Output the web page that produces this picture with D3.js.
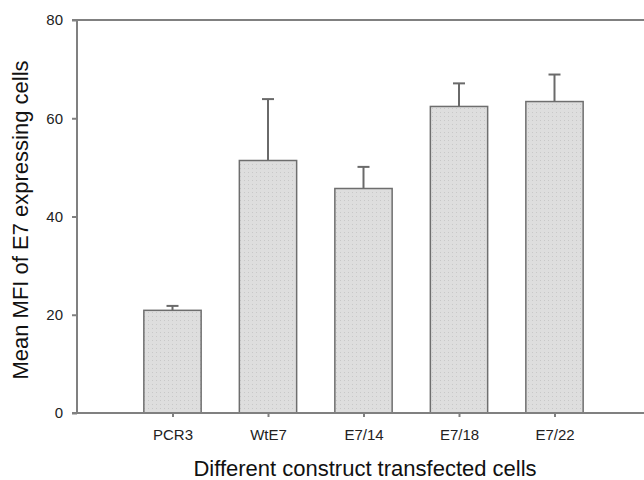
<!DOCTYPE html>
<html>
<head>
<meta charset="utf-8">
<script src="https://cdn.jsdelivr.net/npm/d3@7"></script>
<style>
  body { margin: 0; background: #fff; }
  svg { display: block; font-family: Arial, "Liberation Sans", sans-serif; }
</style>
</head>
<body>
<svg id="chart" width="644" height="480"></svg>
<script>
  // data
  const categories = [ 'PCR3', 'WtE7', 'E7/14', 'E7/18', 'E7/22' ];
  const means = [ 20.9, 51.4, 45.7, 62.4, 63.4 ];
  const errors = [ 0.9, 12.5, 4.4, 4.7, 5.5 ];
  const yTicks = [ 0, 20, 40, 60, 80 ];

  let svg = d3.select( '#chart' ),
    axisColor = '#808080';

  let x = d3.scalePoint().domain( categories ).range( [ 77, 650 ] ).padding( 1 ),
    y = d3.scaleLinear().domain( [ 0, 80 ] ).range( [ 413, 20 ] ),
    barW = x.step() * 0.6;

  // dotted fill like the original
  let pat = svg.append( 'defs' ).append( 'pattern' )
    .attr( 'id', 'dots' ).attr( 'width', 4 ).attr( 'height', 4 )
    .attr( 'patternUnits', 'userSpaceOnUse' );
  pat.append( 'rect' ).attr( 'width', 4 ).attr( 'height', 4 ).attr( 'fill', '#dedede' );
  pat.append( 'rect' ).attr( 'width', 1 ).attr( 'height', 1 ).attr( 'fill', '#c8c8c8' );

  let data = categories.map( ( c, i ) => ( { c: c, m: means[ i ], e: errors[ i ] } ) );

  // error bars (drawn first, bar covers lower part)
  let err = svg.append( 'g' ).attr( 'stroke', '#6a6a6a' ).attr( 'stroke-width', 2 );
  err.selectAll( 'line.stem' ).data( data ).enter().append( 'line' )
    .attr( 'class', 'stem' )
    .attr( 'x1', d => x( d.c ) ).attr( 'x2', d => x( d.c ) )
    .attr( 'y1', d => y( d.m ) ).attr( 'y2', d => y( d.m + d.e ) );
  err.selectAll( 'line.cap' ).data( data ).enter().append( 'line' )
    .attr( 'class', 'cap' )
    .attr( 'x1', d => x( d.c ) - 6 ).attr( 'x2', d => x( d.c ) + 6 )
    .attr( 'y1', d => y( d.m + d.e ) ).attr( 'y2', d => y( d.m + d.e ) );

  // bars
  svg.append( 'g' ).selectAll( 'rect' ).data( data )
    .enter().append( 'rect' )
    .attr( 'x', d => x( d.c ) - barW / 2 )
    .attr( 'y', d => y( d.m ) )
    .attr( 'width', barW )
    .attr( 'height', d => y( 0 ) - y( d.m ) )
    .style( 'fill', 'url(#dots)' )
    .style( 'stroke', '#6e6e6e' )
    .style( 'stroke-width', 1.5 );

  // y axis
  let yAxis = svg.append( 'g' )
    .attr( 'transform', 'translate(77,0)' )
    .call( d3.axisLeft( y ).tickValues( yTicks ).tickSize( 5 ).tickPadding( 9 ) );

  // x axis
  let xAxis = svg.append( 'g' )
    .attr( 'transform', 'translate(0,' + y( 0 ) + ')' )
    .call( d3.axisBottom( x ).tickSize( 4 ).tickPadding( 12 ) );

  [ yAxis, xAxis ].forEach( a => {
    a.select( '.domain' ).remove();
    a.selectAll( 'line' ).attr( 'stroke', axisColor ).attr( 'stroke-width', 2 );
    a.selectAll( 'text' ).attr( 'fill', '#222' ).style( 'font-size', '15px' )
      .style( 'font-family', 'Arial, "Liberation Sans", sans-serif' );
  } );

  // frame lines: left, bottom, top
  let frame = svg.append( 'g' ).attr( 'stroke', axisColor ).attr( 'stroke-width', 2 );
  frame.append( 'line' ).attr( 'x1', 77 ).attr( 'x2', 77 ).attr( 'y1', y( 80 ) ).attr( 'y2', y( 0 ) );
  frame.append( 'line' ).attr( 'x1', 72 ).attr( 'x2', 650 ).attr( 'y1', y( 0 ) ).attr( 'y2', y( 0 ) );
  frame.append( 'line' ).attr( 'x1', 72 ).attr( 'x2', 650 ).attr( 'y1', y( 80 ) ).attr( 'y2', y( 80 ) );

  // titles
  svg.append( 'text' )
    .attr( 'transform', 'translate(28,220) rotate(-90)' )
    .attr( 'text-anchor', 'middle' )
    .style( 'font-size', '22px' ).attr( 'fill', '#111' )
    .text( 'Mean MFI of E7 expressing cells' );

  svg.append( 'text' )
    .attr( 'x', 365 ).attr( 'y', 476 )
    .attr( 'text-anchor', 'middle' )
    .style( 'font-size', '22px' ).attr( 'fill', '#111' )
    .text( 'Different construct transfected cells' );
</script>
</body>
</html>
